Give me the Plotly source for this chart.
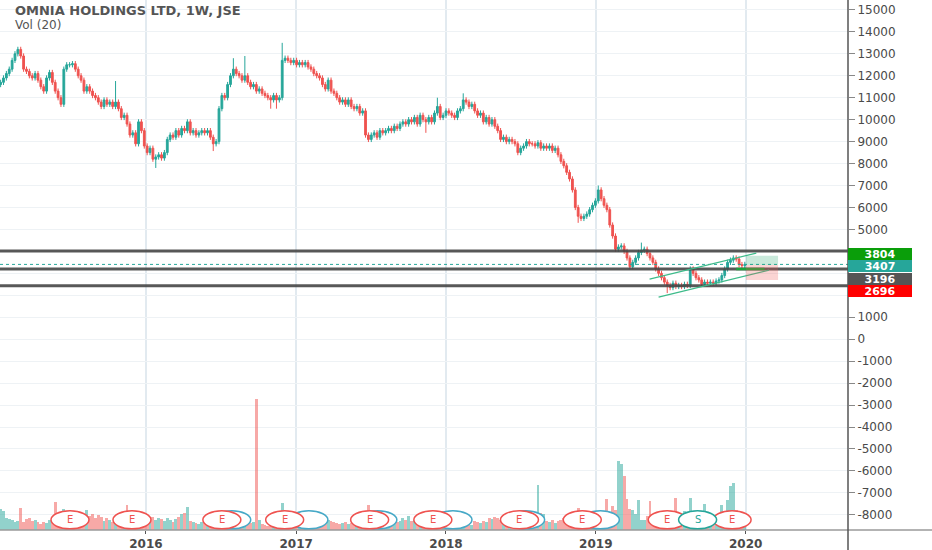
import plotly.graph_objects as go
import pandas as pd

# ---------------- data ----------------
title_text = "OMNIA HOLDINGS LTD, 1W, JSE"
volume_label = "Vol (20)"

first_week = "2015-01-12"
first_open = 11600

closes = [
    11700, 11900, 12100, 12300, 12700, 13000, 13200, 12900, 12300, 12200,   # 0-9
    12000, 11900, 12100, 11800, 11500, 11300, 11900, 12150, 11700, 11300,   # 10-19
    11000, 10700, 12300, 12500, 12500, 12550, 12300, 12000, 11800, 11300,   # 20-29
    11500, 11300, 11100, 11000, 10800, 10600, 10900, 10700, 10800, 10600,   # 30-39
    10800, 10500, 10100, 10200, 9800, 9300, 9400, 8900, 9900, 9500,         # 40-49
    8800, 8500, 8700, 8200, 8300, 8400, 8250, 8500, 9100, 9300,             # 50-59
    9200, 9500, 9300, 9600, 9500, 9900, 9400, 9500, 9300, 9400,             # 60-69
    9500, 9400, 9500, 9200, 8900, 9000, 10500, 11100, 11000, 11600,         # 70-79
    12000, 12300, 12100, 12000, 11800, 12000, 11700, 11500, 11600, 11300,   # 80-89
    11400, 11200, 11100, 11000, 10900, 11100, 10900, 11000, 12700, 12800,   # 90-99
    12700, 12600, 12700, 12500, 12600, 12500, 12600, 12400, 12300, 12100,   # 100-109
    12000, 11900, 11600, 11400, 11800, 11300, 11200, 11000, 10800, 10900,   # 110-119
    10700, 10900, 10600, 10500, 10600, 10300, 10400, 9300, 9100, 9300,      # 120-129
    9400, 9200, 9500, 9400, 9500, 9600, 9500, 9700, 9600, 9800,             # 130-139
    9900, 9800, 10000, 9900, 10100, 9800, 10200, 10000, 9900, 10100,        # 140-149
    9900, 10300, 10600, 10100, 10200, 10400, 10300, 10200, 10100, 10400,    # 150-159
    10500, 10900, 10800, 10600, 10700, 10400, 10200, 10300, 9900, 10100,    # 160-169
    9800, 10000, 9700, 9500, 9100, 9200, 9000, 9100, 9000, 8900,            # 170-179
    8500, 8700, 8800, 9000, 8900, 8900, 8800, 8950, 8700, 8800,             # 180-189
    8700, 8800, 8600, 8700, 8400, 8100, 7900, 7600, 7300, 6800,             # 190-199
    6000, 5600, 5500, 5600, 5700, 5900, 6100, 6300, 6800, 6400,             # 200-209
    6100, 5900, 5200, 4700, 4100, 4200, 4250, 4000, 3700, 3300,             # 210-219
    3500, 3700, 3950, 4050, 4100, 3900, 3700, 3500, 3200, 3000,             # 220-229
    2800, 2600, 2450, 2350, 2550, 2400, 2450, 2400, 2500, 2450,             # 230-239
    3200, 3000, 2800, 2700, 2500, 2600, 2550, 2600, 2550, 2650,             # 240-249
    2700, 2900, 3200, 3500, 3600, 3700, 3650, 3400, 3350, 3407,             # 250-259
]

# weekly volume (10k shares)
volumes = [
    21, 19, 12, 11, 10, 8, 9, 22, 8, 11,
    12, 9, 10, 8, 6, 8, 7, 10, 12, 28,
    12, 9, 21, 14, 12, 10, 11, 13, 12, 15,
    20, 14, 16, 12, 15, 13, 9, 12, 10, 8,
    12, 11, 14, 10, 25, 13, 12, 14, 10, 9,
    8, 12, 11, 13, 10, 12, 11, 9, 12, 10,
    8, 11, 13, 16, 17, 23, 9, 8, 7, 6,
    8, 7, 6, 8, 9, 7, 10, 8, 6, 5,
    4, 6, 5, 7, 6, 5, 6, 7, 8, 131,
    10, 6, 5, 4, 6, 5, 7, 6, 27, 12,
    8, 7, 6, 5, 6, 8, 7, 9, 8, 6,
    7, 5, 6, 8, 10, 9, 8, 7, 6, 7,
    8, 6, 7, 9, 8, 10, 9, 14, 25, 12,
    11, 12, 13, 10, 9, 12, 11, 10, 8, 9,
    12, 10, 14, 9, 10, 8, 11, 12, 15, 13,
    10, 12, 14, 9, 10, 8, 6, 5, 7, 6,
    5, 8, 7, 6, 5, 9, 8, 7, 9, 8,
    12, 11, 13, 12, 10, 9, 11, 12, 10, 11,
    12, 10, 9, 11, 10, 12, 13, 45, 17, 16,
    9, 8, 10, 7, 9, 10, 12, 11, 10, 12,
    13, 22, 12, 11, 10, 12, 11, 13, 12, 14,
    11, 31, 18, 24, 20, 69, 66, 54, 31, 21,
    20, 16, 30, 10, 10, 14, 29, 16, 14, 13,
    12, 15, 14, 13, 12, 32, 14, 12, 19, 13,
    32, 15, 12, 11, 13, 26, 11, 10, 12, 11,
    10, 25, 18, 30, 44, 47, 20, 10, 7, 4,
]

wick_pad = 120
# notable wicks: index -> (high, low)
wick_overrides = {
    40: (11760, None), 54: (None, 7800), 74: (None, 8570), 81: (12800, None),
    85: (12900, None), 94: (None, 10500), 96: (None, 10500), 98: (13500, None),
    148: (None, 9400), 152: (11000, None), 161: (11200, None), 201: (None, 5300),
    208: (7000, None), 223: (4400, None), 232: (None, 2100),
}

level_prices = [4020, 3196, 2430]
current_price = closes[-1]

label_values = [3804, 3407, 3196, 2696]
label_colors = ["#0a9e0a", "#26a69a", "#555555", "#ff0000"]

position_start, position_end = "2020-01-02", "2020-03-20"
position_target, position_entry, position_stop = 3804, 3380, 2696

channel_lines = [
    (("2019-05-12", 2736), ("2020-01-27", 3922)),
    (("2019-06-03", 1915), ("2020-02-27", 3146)),
]
entry_segment = (("2019-12-09", 3196), ("2020-02-16", 3196))

earnings_dates = ["2015-06-30", "2015-11-28", "2016-07-04", "2016-12-04", "2017-06-29",
                  "2017-11-30", "2018-06-29", "2018-11-29", "2019-06-24", "2019-11-29"]
dividend_dates = ["2016-07-28", "2017-02-01", "2017-07-19", "2018-01-18", "2018-07-14", "2019-01-12"]
split_dates = ["2019-09-06"]
event_level = -8230

x_range = ["2015-01-10 12:00", "2020-09-06 09:00"]
y_range = [-8692, 15451]
y_ticks = list(range(-8000, 15001, 1000))
hidden_tick_values = [2000, 3000, 4000]   # covered by the price labels

# ---------------- build ----------------
GREEN = "#26a69a"
RED = "#ef5350"

dates = pd.date_range(first_week, periods=len(closes), freq="7D")
opens = [first_open] + closes[:-1]
highs, lows = [], []
for i, (o, c) in enumerate(zip(opens, closes)):
    h = max(o, c) + wick_pad
    l = min(o, c) - wick_pad
    if i in wick_overrides:
        oh, ol = wick_overrides[i]
        h = oh if oh is not None else h
        l = ol if ol is not None else l
    highs.append(h)
    lows.append(l)

vol_colors = ["rgba(38,166,154,0.5)" if c >= o else "rgba(239,83,80,0.5)"
              for o, c in zip(opens, closes)]

y_ticktext = ["" if v in hidden_tick_values else str(v) for v in y_ticks]

fig = go.Figure()
fig.add_trace(go.Bar(x=dates, y=volumes, marker=dict(color=vol_colors, line=dict(width=0)),
                     yaxis="y2", showlegend=False, hoverinfo="skip"))
fig.add_trace(go.Candlestick(
    x=dates, open=opens, high=highs, low=lows, close=closes,
    increasing=dict(line=dict(color=GREEN, width=1), fillcolor=GREEN),
    decreasing=dict(line=dict(color=RED, width=1), fillcolor=RED),
    whiskerwidth=0, showlegend=False))

shapes = []
# horizontal levels
for p in level_prices:
    shapes.append(dict(type="line", xref="paper", yref="y", x0=0, x1=1, y0=p, y1=p,
                       line=dict(color="rgba(70,70,70,0.9)", width=3)))
# current price dotted line
shapes.append(dict(type="line", xref="paper", yref="y", x0=0, x1=1, y0=current_price, y1=current_price,
                   line=dict(color=GREEN, width=1, dash="dot")))
# channel
for (a, b) in channel_lines:
    shapes.append(dict(type="line", xref="x", yref="y", x0=a[0], y0=a[1], x1=b[0], y1=b[1],
                       line=dict(color="#3dbb8a", width=1.2)))
shapes.append(dict(type="line", xref="x", yref="y", x0=entry_segment[0][0], y0=entry_segment[0][1],
                   x1=entry_segment[1][0], y1=entry_segment[1][1], line=dict(color="#1aa33a", width=2.5)))
# position tool
shapes.append(dict(type="rect", xref="x", yref="y", x0=position_start, x1=position_end,
                   y0=position_entry, y1=position_target, fillcolor="rgba(8,153,90,0.22)", line=dict(width=0)))
shapes.append(dict(type="rect", xref="x", yref="y", x0=position_start, x1=position_end,
                   y0=position_stop, y1=position_entry, fillcolor="rgba(239,83,80,0.25)", line=dict(width=0)))
# frame lines
shapes.append(dict(type="line", xref="paper", yref="paper", x0=0, x1=932 / 848, y0=0, y1=0,
                   line=dict(color="#9a9a9a", width=1.5)))
shapes.append(dict(type="line", xref="paper", yref="paper", x0=1, x1=1, y0=-20 / 530, y1=1,
                   line=dict(color="#555555", width=1.5)))

annotations = []


def event_marker(d, color, letter):
    shapes.append(dict(type="circle", xref="x", yref="y", xsizemode="pixel", ysizemode="pixel",
                       xanchor=d, yanchor=event_level, x0=-19, x1=19, y0=-9, y1=9,
                       fillcolor="white", line=dict(color=color, width=1.5)))
    if letter:
        annotations.append(dict(x=d, y=event_level, xref="x", yref="y", text=letter, showarrow=False,
                                font=dict(family="DejaVu Sans", size=10, color=color)))


for d in dividend_dates:
    event_marker(d, "#47a9c7", "")
for d in earnings_dates:
    event_marker(d, RED, "E")
for d in split_dates:
    event_marker(d, GREEN, "S")

# right side labels (stacked)
for k, (v, col) in enumerate(zip(label_values, label_colors)):
    annotations.append(dict(x=1, xref="paper", xanchor="left", y=label_values[0], yref="y",
                            yshift=2 - 12.5 * k, text=str(v), showarrow=False, width=64, height=12,
                            bgcolor=col, borderpad=0, borderwidth=0, align="center",
                            font=dict(family="DejaVu Sans", size=11, color="white", weight="bold")))

annotations.append(dict(x=13 / 848, y=1 - 11 / 530, xref="paper", yref="paper", xanchor="left",
                        yanchor="middle", text=title_text, showarrow=False,
                        font=dict(family="DejaVu Sans", size=13, color="#555555", weight="bold")))
annotations.append(dict(x=13 / 848, y=1 - 25 / 530, xref="paper", yref="paper", xanchor="left",
                        yanchor="middle", text=volume_label, showarrow=False,
                        font=dict(family="DejaVu Sans", size=12, color="#555555")))

fig.update_layout(
    width=932, height=550,
    margin=dict(l=0, r=84, t=0, b=20, autoexpand=False),
    paper_bgcolor="white", plot_bgcolor="white",
    bargap=0, boxgap=0.12,
    showlegend=False, hovermode=False,
    shapes=shapes, annotations=annotations,
    xaxis=dict(type="date", range=x_range, rangeslider=dict(visible=False), automargin=False,
               dtick="M12", tick0="2016-01-01", tickformat="%Y",
               showgrid=True, gridcolor="#e2eaf0", gridwidth=1.5,
               ticks="outside", ticklen=3, tickcolor="#555555",
               tickfont=dict(family="DejaVu Sans", size=12, color="#4a4a4a", weight="bold"),
               showline=False, zeroline=False),
    yaxis=dict(range=y_range, side="right", tickvals=y_ticks, ticktext=y_ticktext, automargin=False,
               showgrid=True, gridcolor="#eef2f5", gridwidth=1,
               ticks="outside", ticklen=6, tickcolor="#888888",
               tickfont=dict(family="DejaVu Sans", size=12, color="#4a4a4a"),
               showline=False, zeroline=False),
    yaxis2=dict(range=[0, 530], overlaying="y", visible=False),
)

fig.write_html("out.html", config={"displayModeBar": False},
               post_script="document.body.style.margin='0';document.body.style.overflow='hidden';")
